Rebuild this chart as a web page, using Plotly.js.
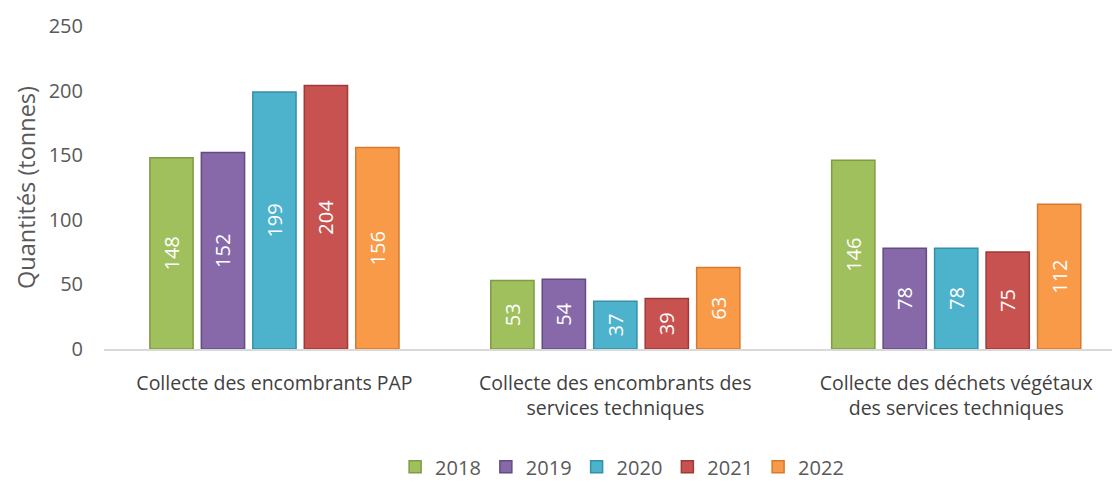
<!DOCTYPE html>
<html><head><meta charset="utf-8">
<script src="https://cdn.plot.ly/plotly-3.0.1.min.js"></script>
<style>body{margin:0}#c{width:1112px;height:483px}</style>
</head><body><div id="c"></div>
<script>
const categories = ["Collecte des encombrants PAP", "Collecte des encombrants des<br>services techniques", "Collecte des déchets végétaux<br>des services techniques"];
const years = ["2018", "2019", "2020", "2021", "2022"];
const v2018 = [148, 53, 146];
const v2019 = [152, 54, 78];
const v2020 = [199, 37, 78];
const v2021 = [204, 39, 75];
const v2022 = [156, 63, 112];
const yTicks = [0, 50, 100, 150, 200, 250];

const series = [v2018, v2019, v2020, v2021, v2022];
const colors = ["#A0BF5D", "#8769AA", "#4DB2CC", "#C8524F", "#F99A49"];
const lines = ["#7E9C42", "#634C82", "#3590A8", "#9C3B38", "#D67A2E"];
const font = "'Open Sans', sans-serif";

const data = series.map((vals, i) => ({
  type: "bar",
  name: years[i],
  x: [0, 1, 2],
  y: vals,
  text: vals.map(String),
  textposition: "inside",
  insidetextanchor: "middle",
  textangle: -90,
  insidetextfont: {color: "#ffffff", size: 20, family: font},
  marker: {color: colors[i], line: {color: lines[i], width: 1.5}},
  hoverinfo: "none"
}));

const layout = {
  width: 1112, height: 483,
  margin: {l: 104, r: 0, t: 26, b: 134, autoexpand: false},
  paper_bgcolor: "#ffffff", plot_bgcolor: "#ffffff",
  barmode: "group", bargap: 0.245, bargroupgap: 0.16,
  font: {family: font, color: "#595959", size: 20},
  xaxis: {
    range: [-0.5, 2.457],
    tickvals: [0, 1, 2], ticktext: categories,
    showline: true, linecolor: "#D9D9D9", linewidth: 1.5,
    showgrid: false, zeroline: false, ticks: "",
    ticklabelstandoff: 16,
    tickfont: {size: 19.5, color: "#404040", family: font}
  },
  yaxis: {
    range: [0, 250], tickvals: yTicks,
    showgrid: false, zeroline: false, showline: false, ticks: "",
    ticklabelstandoff: 20,
    tickfont: {size: 20, color: "#595959", family: font},
    title: {text: "Quantités (tonnes)", font: {size: 23.5, color: "#595959", family: font}, standoff: 6}
  },
  legend: {
    orientation: "h", x: 0.514, xanchor: "center", y: -0.425, yanchor: "bottom",
    font: {size: 20, color: "#595959", family: font},
    itemwidth: 30, traceorder: "normal"
  },
  showlegend: true
};

Plotly.newPlot("c", data, layout, {staticPlot: true, displayModeBar: false});
</script>
</body></html>
